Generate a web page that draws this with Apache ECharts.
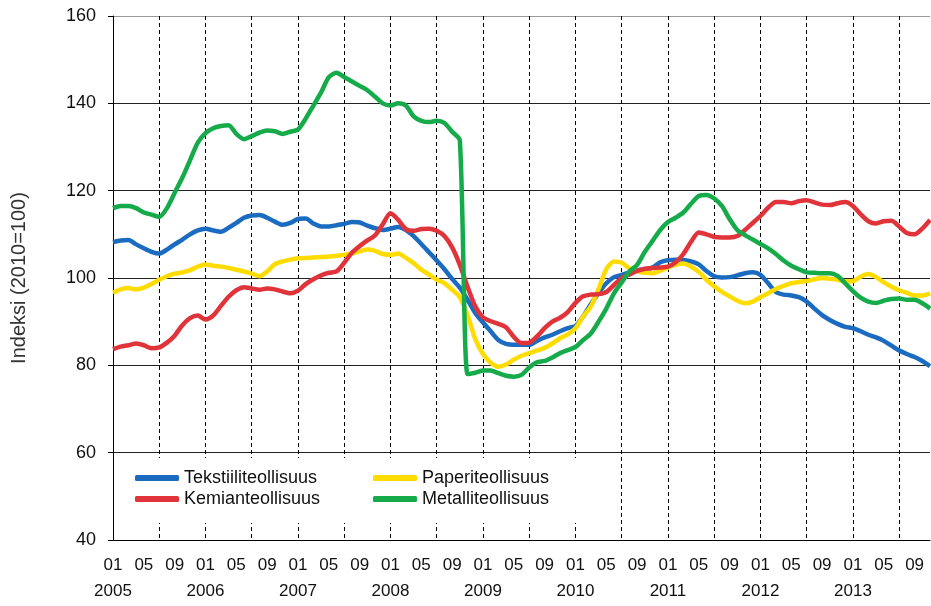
<!DOCTYPE html>
<html>
<head>
<meta charset="utf-8">
<title>Teollisuuden tuotanto</title>
<script src="https://cdn.jsdelivr.net/npm/echarts@6/dist/echarts.min.js"></script>
<style>
    html,body{margin:0;padding:0;background:#fff;}
    #chart{width:931px;height:606px;}
</style>
</head>
<body>
<div id="chart"></div>
<script>
    // kuukaudet 2005/01 - 2013/11
    var years = ['2005','2006','2007','2008','2009','2010','2011','2012','2013'];
    var months = [];
    years.forEach(function(y){
        for (var m = 1; m <= 12; m++) {
            months.push(y + '-' + (m < 10 ? '0' + m : '' + m));
        }
    });
    months = months.slice(0, 107);

    var seriesNames = ['Tekstiiliteollisuus', 'Paperiteollisuus', 'Kemianteollisuus', 'Metalliteollisuus'];
    var colorList = ['#1b6cc0', '#ffdc00', '#e0333a', '#15ab4a'];

    var tekstiili = [
        108.2,108.6,108.7,107.7,106.8,106.0,105.6,106.5,107.7,108.8,110.0,110.9,
        111.3,110.9,110.6,111.5,112.6,113.8,114.3,114.4,113.8,112.9,112.2,112.6,
        113.5,113.6,112.5,111.8,111.8,112.1,112.4,112.8,112.7,112.0,111.4,111.0,
        111.3,111.7,111.0,109.6,107.8,105.9,104.0,102.0,99.8,97.8,95.0,92.0,
        89.8,87.8,85.8,84.9,84.7,84.7,84.7,85.6,86.4,87.0,87.8,88.5,
        89.0,91.2,94.0,96.6,98.8,100.2,100.7,101.3,101.8,102.0,102.4,103.6,
        104.1,104.2,104.1,103.8,103.1,101.6,100.4,100.1,100.2,100.6,101.1,101.3,
        100.7,98.8,96.8,96.2,96.0,95.6,94.6,93.0,91.5,90.4,89.5,88.8,
        88.5,87.8,87.0,86.4,85.6,84.5,83.4,82.6,81.9,81.0,79.8
    ];
    var paperi = [
        96.6,97.4,97.7,97.4,97.8,98.6,99.6,100.4,101.0,101.3,101.8,102.6,
        103.1,102.8,102.6,102.3,101.9,101.5,101.0,100.4,101.5,103.2,103.8,104.2,
        104.5,104.6,104.7,104.8,104.9,105.1,105.3,105.6,106.1,106.5,106.2,105.5,
        105.3,105.6,104.6,103.4,101.9,100.8,99.6,98.8,97.3,95.6,91.5,86.0,
        82.6,80.6,79.7,80.2,81.3,82.2,82.8,83.4,84.0,85.0,86.2,87.1,
        88.5,91.2,93.5,97.5,102.0,103.8,103.5,102.2,101.6,101.2,101.1,101.7,
        102.4,103.0,103.3,102.6,101.4,99.6,98.1,96.8,95.8,94.8,94.2,94.6,
        95.6,96.5,97.5,98.2,98.8,99.1,99.3,99.7,100.0,99.8,99.6,99.2,
        99.3,100.3,100.9,100.2,99.0,98.0,97.2,96.6,96.0,96.0,96.5
    ];
    var kemia = [
        83.7,84.3,84.6,85.0,84.6,83.9,84.1,85.2,86.8,89.2,90.8,91.4,
        90.5,91.4,93.6,95.7,97.2,97.9,97.6,97.3,97.6,97.4,96.9,96.5,
        97.1,98.6,99.7,100.6,101.2,101.5,103.5,105.8,107.3,108.6,109.8,112.3,
        114.8,113.3,111.2,110.8,111.2,111.3,110.8,109.6,107.0,103.0,98.0,93.5,
        91.0,90.1,89.5,88.7,86.5,85.1,85.2,86.6,88.5,90.0,90.9,92.2,
        94.3,95.8,96.2,96.3,96.8,98.4,100.0,100.8,101.6,102.1,102.3,102.4,
        102.6,103.6,105.5,108.3,110.4,110.0,109.4,109.3,109.3,109.6,111.0,112.6,
        114.2,116.1,117.4,117.4,117.1,117.6,117.8,117.3,116.8,116.7,117.1,117.4,
        116.5,114.6,113.0,112.5,113.0,113.1,111.8,110.3,110.0,111.3,113.3
    ];
    var metalli = [
        116.0,116.5,116.5,116.0,115.0,114.5,114.0,116.0,119.5,123.0,127.0,131.0,
        133.2,134.3,134.8,135.0,133.0,131.8,132.5,133.3,133.8,133.6,133.0,133.5,
        134.0,136.5,139.5,142.5,146.0,147.0,146.0,145.0,144.0,143.0,141.5,140.0,
        139.5,140.0,139.5,137.0,136.0,135.7,136.0,135.5,133.5,131.5,78.0,78.3,
        78.8,78.8,78.2,77.6,77.4,77.8,79.5,80.7,81.0,81.8,82.8,83.5,
        84.2,85.8,87.3,90.0,93.0,96.5,99.0,101.5,103.0,106.0,108.5,111.0,
        112.8,113.8,115.0,117.0,118.8,119.0,118.2,116.5,113.5,111.0,109.8,108.8,
        107.8,106.8,105.5,104.0,102.8,102.0,101.3,101.2,101.1,101.1,100.5,98.8,
        97.0,95.5,94.6,94.3,94.8,95.2,95.3,95.0,95.0,94.2,93.0
    ];
    var seriesValues = [tekstiili, paperi, kemia, metalli];

    var yTicks = [40, 60, 80, 100, 120, 140, 160];
    var labelMonths = ['01', '05', '09'];

    var fontFam = '"Liberation Sans", Arial, sans-serif';
    var myChart = echarts.init(document.getElementById('chart'));

    var _series = seriesNames.map(function(name, i){
        return {
            name: name,
            type: 'line',
            data: seriesValues[i],
            symbol: 'none',
            smooth: 0.25,
            lineStyle: { color: colorList[i], width: 4.5 },
            itemStyle: { color: colorList[i] },
            z: 2 + i
        };
    });

    var _option = {
        animation: false,
        backgroundColor: '#fff',
        textStyle: { fontFamily: fontFam },
        grid: { left: 113, right: 1, top: 16, bottom: 66, containLabel: false, outerBoundsMode: 'none' },
        legend: {
            left: 114,
            top: 458,
            width: 480,
            orient: 'horizontal',
            padding: [11, 12, 15, 21],
            itemGap: 3,
            itemWidth: 44,
            itemHeight: 6,
            icon: 'roundRect',
            backgroundColor: '#fff',
            data: seriesNames,
            textStyle: {
                fontFamily: fontFam,
                fontSize: 18,
                color: '#111',
                width: 186,
                lineHeight: 18
            }
        },
        xAxis: {
            type: 'category',
            data: months,
            boundaryGap: false,
            axisLine: { show: true, lineStyle: { color: '#000', width: 1 } },
            axisTick: { show: false },
            axisLabel: {
                interval: function(index, value){
                    return labelMonths.indexOf(value.slice(5)) >= 0;
                },
                formatter: function(value){
                    var m = value.slice(5);
                    if (m === '01') { return m + '\n' + value.slice(0, 4); }
                    return m;
                },
                fontFamily: fontFam,
                fontSize: 17,
                lineHeight: 26,
                color: '#111',
                margin: 12,
                hideOverlap: false
            },
            splitLine: {
                show: true,
                interval: function(index){ return index > 0 && index % 6 === 0; },
                lineStyle: { color: '#000', width: 1, type: [4, 3] }
            }
        },
        yAxis: {
            type: 'value',
            min: yTicks[0],
            max: yTicks[yTicks.length - 1],
            interval: 20,
            name: 'Indeksi (2010=100)',
            nameLocation: 'middle',
            nameRotate: 90,
            nameGap: 84,
            nameTextStyle: { fontFamily: fontFam, fontSize: 20, color: '#333' },
            axisLine: { show: true, lineStyle: { color: '#000', width: 1 } },
            axisTick: { show: true, inside: false, length: 5, lineStyle: { color: '#000' } },
            axisLabel: { fontFamily: fontFam, fontSize: 18, color: '#111', margin: 17 },
            splitLine: {
                show: true,
                lineStyle: { color: ['#222', '#222', '#222', '#222', '#222', '#222', '#999'], width: 1.2 }
            }
        },
        series: _series
    };
    myChart.setOption(_option);
</script>
</body>
</html>
